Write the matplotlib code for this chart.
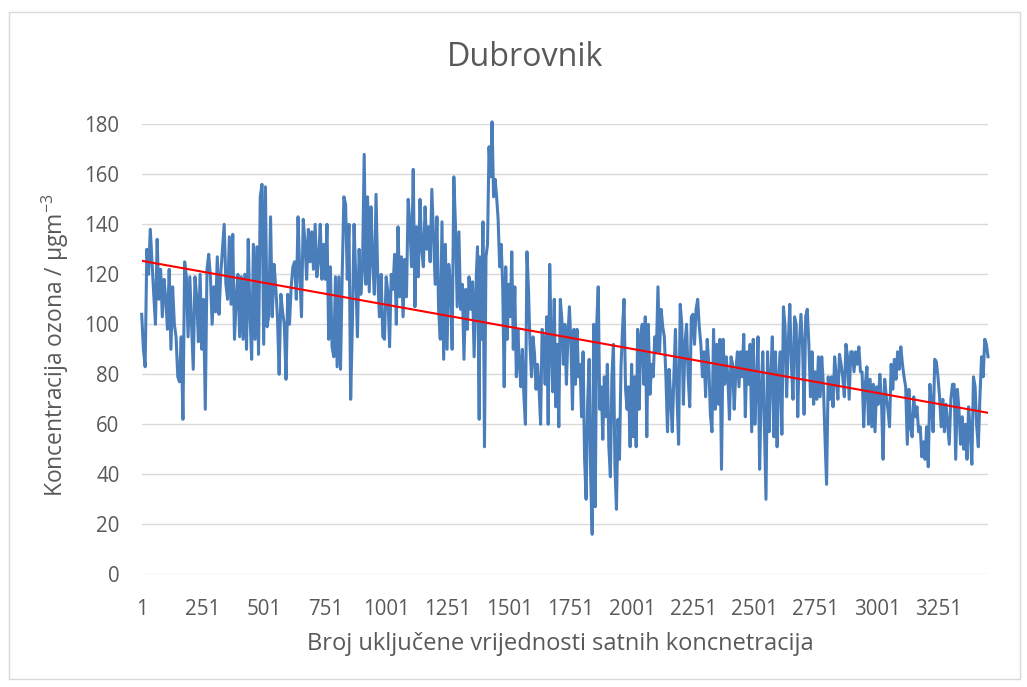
import matplotlib
matplotlib.use("Agg")
import matplotlib.pyplot as plt
import numpy as np
from matplotlib.patches import Rectangle

# ---------------- data ----------------
# Hourly ozone readings sampled every few hours, in five consecutive parts.
ozone_part1 = [104, 90, 83, 130, 120, 138, 125, 112, 100, 134,
               110, 122, 103, 118, 110, 98, 122, 90, 115, 100,
               95, 79, 77, 95, 62, 125, 119, 95, 119, 100,
               82, 119, 111, 93, 120, 90, 110, 66, 122, 128,
               119, 100, 115, 105, 127, 104, 120, 130, 140, 116,
               110, 135, 108, 136, 94, 110, 120, 95, 119, 94,
               120, 90, 134, 104, 86, 132, 94, 131, 88, 151,
               156, 92, 155, 99, 104, 143, 103, 124, 115, 103,
               80, 112, 105, 100, 78, 112, 100, 115, 123, 125,
               110, 143, 120, 103, 142, 133, 118, 138]
ozone_part2 = [125, 137, 122, 140, 119, 125, 140, 118, 132, 118,
               140, 94, 123, 91, 87, 119, 83, 119, 82, 120,
               151, 148, 118, 140, 70, 100, 140, 119, 95, 130,
               112, 122, 168, 116, 151, 113, 147, 125, 112, 152,
               119, 103, 120, 95, 94, 119, 113, 91, 120, 114,
               128, 100, 139, 111, 127, 103, 126, 111, 150, 140,
               123, 162, 107, 139, 119, 150, 130, 123, 147, 130,
               139, 125, 154, 135, 116, 143, 106, 94, 141, 86,
               132, 90, 124, 116, 90, 159, 139, 107, 137, 106,
               116, 86, 114, 98, 119, 106, 117, 87, 114, 131,
               62]
ozone_part3 = [127, 94, 141, 51, 127, 132, 171, 159, 181, 151,
               158, 151, 142, 123, 132, 116, 75, 123, 94, 116,
               103, 129, 90, 115, 79, 98, 84, 75, 90, 71,
               60, 129, 114, 92, 79, 95, 88, 74, 84, 74,
               60, 98, 94, 76, 103, 60, 124, 92, 73, 110,
               67, 92, 59, 110, 102, 84, 100, 76, 95, 107,
               92, 66, 98, 76, 98, 79, 84, 63, 89, 46,
               30, 68, 86, 39, 16, 100, 27, 100, 115, 66,
               75, 54, 79, 63, 84, 51, 39, 79, 92, 43,
               26, 62, 46, 83, 98, 110, 74, 66, 75, 51,
               84, 55, 79, 51, 98, 66, 95, 100, 76, 103,
               55, 100]
ozone_part4 = [72, 84, 79, 95, 89, 115, 89, 106, 99, 95,
               79, 57, 82, 71, 57, 79, 98, 71, 52, 108,
               100, 68, 92, 100, 79, 67, 103, 104, 92, 106,
               110, 99, 92, 79, 89, 71, 94, 84, 64, 57,
               98, 66, 92, 68, 94, 42, 94, 76, 87, 79,
               62, 87, 84, 66, 81, 89, 75, 89, 79, 96,
               63, 89, 76, 92, 57, 94, 60, 76, 95, 42,
               73, 89, 60, 30, 89, 57, 79, 95, 55, 89,
               51, 79, 89, 56, 107, 99, 71, 92, 108, 84,
               70, 103, 100, 63, 92, 104, 92, 64, 103, 106,
               92, 71, 89, 68, 81, 70, 87]
ozone_part5 = [71, 87, 76, 55, 36, 79, 70, 79, 67, 87,
               79, 70, 88, 84, 79, 71, 92, 87, 70, 89,
               89, 81, 89, 84, 91, 81, 81, 59, 76, 83,
               60, 78, 59, 76, 57, 75, 68, 80, 70, 46,
               78, 71, 66, 59, 84, 74, 86, 78, 89, 82,
               91, 84, 79, 75, 52, 74, 59, 55, 71, 63,
               67, 57, 59, 47, 53, 46, 59, 43, 76, 68,
               57, 86, 85, 79, 71, 59, 70, 57, 68, 60,
               52, 70, 76, 76, 46, 74, 66, 52, 63, 50,
               60, 46, 67, 57, 44, 79, 75, 59, 51, 71,
               87, 79, 94, 92, 87]

part_first_hours = [1, 688, 1381, 2075, 2769]
part_last_hours = [681, 1378, 2068, 2762, 3454]

trend_endpoints = [125.4, 64.6]   # linear trend line value at first and last hour

x_tick_values = [1, 251, 501, 751, 1001, 1251, 1501, 1751, 2001, 2251, 2501, 2751, 3001, 3251]
y_tick_values = [0, 20, 40, 60, 80, 100, 120, 140, 160, 180]

title_text = "Dubrovnik"
x_label_text = "Broj uključene vrijednosti satnih koncnetracija"
y_label_text = r"Koncentracija ozona / µgm$^{-3}$"

parts = [ozone_part1, ozone_part2, ozone_part3, ozone_part4, ozone_part5]
ozone = np.concatenate([np.asarray(p, dtype=float) for p in parts])
hours = np.concatenate([np.linspace(a, b, len(p))
                        for p, a, b in zip(parts, part_first_hours, part_last_hours)])

# ---------------- style ----------------
FONT = "Open Sans"
plt.rcParams["font.family"] = [FONT, "DejaVu Sans"]
plt.rcParams["mathtext.fontset"] = "custom"
plt.rcParams["mathtext.rm"] = FONT
plt.rcParams["mathtext.it"] = FONT
plt.rcParams["mathtext.default"] = "regular"
TXT = "#595959"
GRID = "#D9D9D9"
BLUE = "#4A7EBB"

W, H = 1027, 687
fig = plt.figure(figsize=(W / 100, H / 100), dpi=100)
fig.patch.set_facecolor("white")

# chart border
fig.patches.append(Rectangle((9 / W, 1 - 679 / H), (1020 - 9) / W, (679 - 12) / H,
                             transform=fig.transFigure, fill=False,
                             edgecolor=GRID, linewidth=1.0))

left, right, top, bottom = 141.7, 988.0, 124.3, 574.3
ax = fig.add_axes([left / W, 1 - bottom / H, (right - left) / W, (bottom - top) / H])

ax.plot(hours, ozone, color=BLUE, lw=2.2, solid_joinstyle="round", clip_on=False, zorder=3)
ax.plot([hours[0], hours[-1]], trend_endpoints, color="#FF0000", lw=1.5, zorder=4)

ax.set_xlim(hours[0], hours[-1])
ax.set_ylim(0, 180)
ax.set_xticks(x_tick_values)
ax.set_yticks(y_tick_values)
ax.yaxis.grid(True, color=GRID, lw=1.0)
ax.set_axisbelow(True)
for s in ax.spines.values():
    s.set_visible(False)
ax.tick_params(axis="both", length=0, colors=TXT, labelsize=14.8)
ax.tick_params(axis="x", pad=18)
ax.tick_params(axis="y", pad=16)

fig.text(525 / W, 1 - 57 / H, title_text, ha="center", va="center", fontsize=23.2, color=TXT)
fig.text(560 / W, 1 - 644 / H, x_label_text, ha="center", va="center", fontsize=17, color=TXT)
fig.text(55 / W, 1 - 345 / H, y_label_text, ha="center", va="center", rotation=90,
         fontsize=16.5, color=TXT)

fig.savefig("out.png", dpi=100, facecolor="white")
